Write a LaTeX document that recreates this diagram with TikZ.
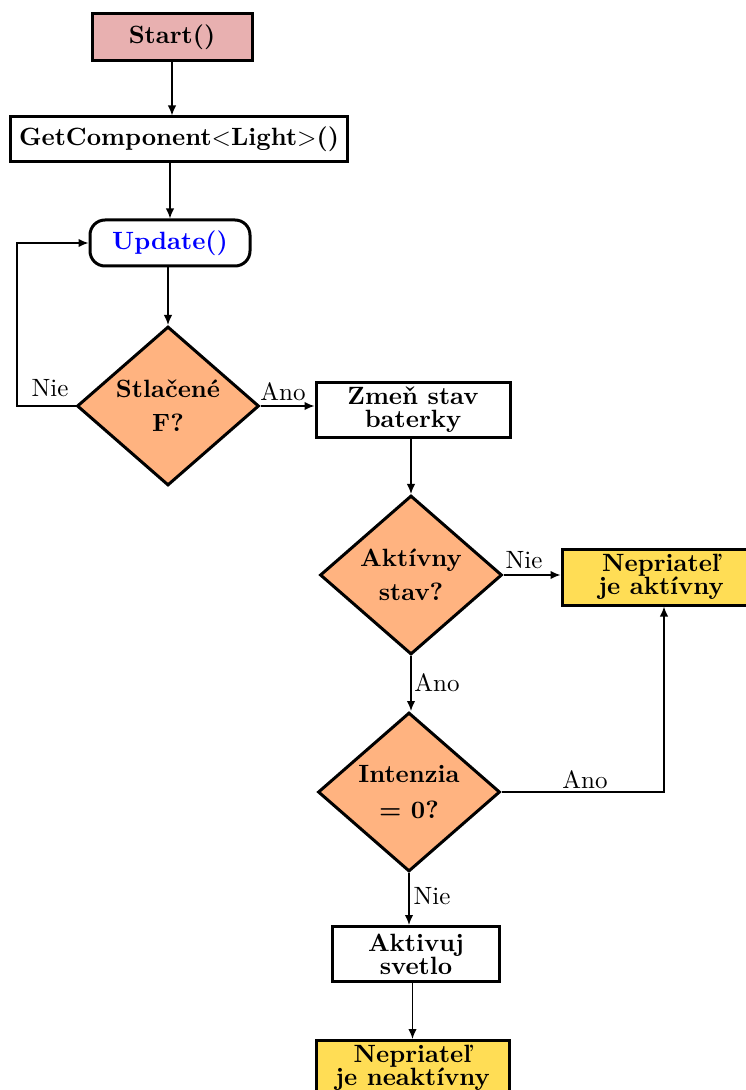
\documentclass[tikz,border=0pt]{standalone}
\usetikzlibrary{shapes.geometric,arrows.meta}
\definecolor{startpink}{RGB}{232,176,176}
\definecolor{decorange}{RGB}{255,179,128}
\definecolor{endyellow}{RGB}{255,221,85}
\begin{document}
\begin{tikzpicture}[x=0.4pt,y=-0.4pt,
  box/.style={draw,line width=1.2pt,rectangle,align=center,font=\bfseries,inner sep=0pt},
  dec/.style={draw,line width=1.2pt,diamond,fill=decorange,align=center,font=\bfseries,inner sep=0pt,shape aspect=1.145,minimum width=72.8pt,minimum height=63.6pt},
  arr/.style={line width=0.6pt,-{Latex[length=4pt,width=3.4pt]}},
  lbl/.style={inner sep=1pt,font=\normalsize}]
\useasboundingbox (0,0) rectangle (745,1090);
\node[box,fill=startpink,minimum width=64pt,minimum height=18.8pt] (start) at (172,37) {Start()};
\node[box,minimum width=134.4pt,minimum height=18pt] (getc) at (179,139.5) {GetComponent$<$Light$>$()};
\node[box,rounded corners=6pt,minimum width=64pt,minimum height=18.4pt,text=blue] (update) at (170,243) {Update()};
\node[dec] (d1) at (168,406) {Stla\v{c}en\'e\\[1.5pt]F?};
\node[box,minimum width=77.6pt,minimum height=22pt] (zmen) at (413,410) {Zme\v{n} stav\\[-2.8pt]baterky};
\node[dec] (d2) at (411,575) {Akt\'ivny\\[1.5pt]stav?};
\node[box,fill=endyellow,minimum width=79.2pt,minimum height=22.4pt] (akt) at (661,577) {Nepriate\v{l}\\[-2.8pt]je akt\'ivny};
\node[dec] (d3) at (409,792) {Intenzia\\[2.5pt]= 0?};
\node[box,minimum width=66.8pt,minimum height=22pt] (svet) at (416,954) {Aktivuj\\[-2.8pt]svetlo};
\node[box,fill=endyellow,minimum width=77.2pt,minimum height=22pt] (neakt) at (412.5,1068) {Nepriate\v{l}\\[-2.8pt]je neakt\'ivny};
\coordinate (loopc) at (17,401);
\coordinate (upc) at (664,700);
\draw[arr] (start.south) -- (start.south |- getc.north);
\draw[arr] (update.north |- getc.south) -- (update.north);
\draw[arr] (d1.north |- update.south) -- (d1.north);
\draw[arr] (d1.west) -- (d1.west -| loopc) |- (update.west);
\draw[arr] (d1.east) -- (d1.east -| zmen.west);
\draw[arr] (d2.north |- zmen.south) -- (d2.north);
\draw[arr] (d2.east) -- (d2.east -| akt.west);
\draw[arr] (d2.south) -- (d2.south |- d3.north);
\draw[arr] (d3.east) -- (d3.east -| upc) -- (upc |- akt.south);
\draw[arr] (d3.south) -- (d3.south |- svet.north);
\draw[arr] (neakt.north |- svet.south) -- (neakt.north);
\node[lbl] (l1) at (50,388) {Nie};
\node[lbl] (l2) at (283,392) {Ano};
\node[lbl] (l3) at (524,560) {Nie};
\node[lbl] (l4) at (437,683) {Ano};
\node[lbl] (l5) at (585,780) {Ano};
\node[lbl] (l6) at (432,896) {Nie};
\end{tikzpicture}
\end{document}
